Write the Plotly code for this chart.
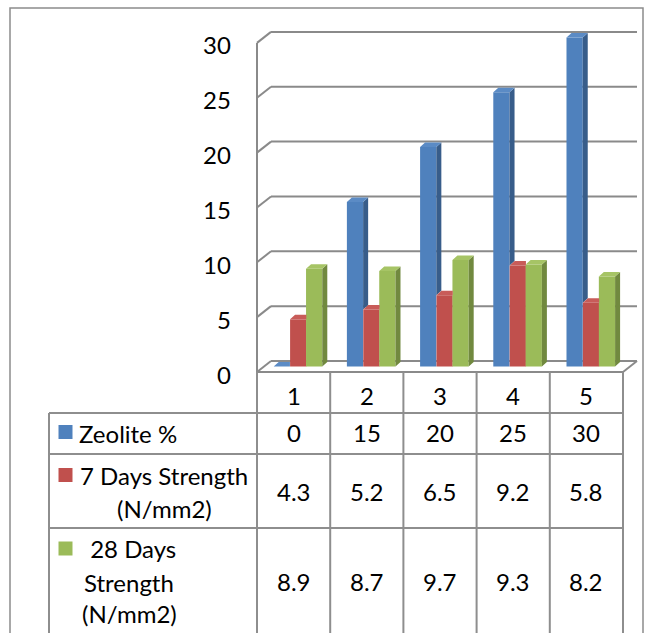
import plotly.graph_objects as go

# ---- data -------------------------------------------------------------
categories = [1, 2, 3, 4, 5]
zeolite_pct = [0, 15, 20, 25, 30]
strength_7d = [4.3, 5.2, 6.5, 9.2, 5.8]
strength_28d = [8.9, 8.7, 9.7, 9.3, 8.2]
y_ticks = [0, 5, 10, 15, 20, 25, 30]

series_values = [zeolite_pct, strength_7d, strength_28d]
series_labels = [
    ["Zeolite %"],
    ["7 Days Strength", "(N/mm2)"],
    [" 28 Days", "Strength", "(N/mm2)"],
]

# ---- styling ----------------------------------------------------------
FRONT = ["#4F81BD", "#C0504D", "#9BBB59"]
SIDE = ["#385D8A", "#8C3B39", "#71893F"]
TOP = ["#5B8BC5", "#C85C59", "#A6C465"]
GRID = "#8A8A8A"
TABLE_LINE = "#8E8E8E"
FONT = "Lato"
FS = 24

W, H = 645, 633

# the plot area spans the whole page; these map page pixels to data units
X_PER_UNIT = 73.2
Y_PER_UNIT = 10.97
X_EDGE_PX = 257      # x = 0.5, left edge of the first category
Y_BASE_PX = 366.5    # y = 0 at the bar base


def X(px):
    return 0.5 + (px - X_EDGE_PX) / X_PER_UNIT


def Y(py):
    return (Y_BASE_PX - py) / Y_PER_UNIT


# 3-D depth of the walls and of each bar
DX = 14 / X_PER_UNIT
DY = 11 / Y_PER_UNIT
BDX = 5 / X_PER_UNIT
BDY = 4.5 / Y_PER_UNIT
BAR_W = 0.222
BAR_OFF = [-0.272, -0.048, 0.170]

fig = go.Figure()

# front faces of the columns
for s, vals in enumerate(series_values):
    fig.add_trace(go.Bar(
        x=categories, y=vals, base=0, width=BAR_W, offset=BAR_OFF[s],
        marker=dict(color=FRONT[s], line=dict(width=0)),
        showlegend=False, hoverinfo="skip",
    ))

# side and top faces, hidden where the next column of the group stands in front
for s, vals in enumerate(series_values):
    sx, sy, tx, ty = [], [], [], []
    for i, c in enumerate(categories):
        v = vals[i]
        nxt = series_values[s + 1][i] if s + 1 < len(series_values) else None
        xl = c + BAR_OFF[s]
        xr = xl + BAR_W
        b = max(nxt, 0) if nxt is not None else 0
        if v > b:
            sx += [xr, xr, xr + BDX, xr + BDX, xr, None]
            sy += [b, v, v + BDY, b + BDY, b, None]
        if nxt is not None and nxt > v:
            tx += [xl, xr, xr, xl + BDX, xl, None]
            ty += [v, v, v + BDY, v + BDY, v, None]
        else:
            tx += [xl, xr, xr + BDX, xl + BDX, xl, None]
            ty += [v, v, v + BDY, v + BDY, v, None]
    fig.add_trace(go.Scatter(x=sx, y=sy, mode="lines", fill="toself",
                             fillcolor=SIDE[s], line=dict(width=0),
                             showlegend=False, hoverinfo="skip"))
    fig.add_trace(go.Scatter(x=tx, y=ty, mode="lines", fill="toself",
                             fillcolor=TOP[s], line=dict(width=0),
                             showlegend=False, hoverinfo="skip"))

shapes = []


def seg(x0, y0, x1, y1, color=GRID, width=2, layer="below"):
    shapes.append(dict(type="line", xref="x", yref="y", x0=x0, y0=y0,
                       x1=x1, y1=y1, layer=layer,
                       line=dict(color=color, width=width)))


x_left = categories[0] - 0.5
x_right = categories[-1] + 0.5

# back wall gridlines with their perspective links to the side wall
for v in y_ticks:
    seg(x_left, v - DY / 2, x_left + DX, v + DY / 2)
    seg(x_left + DX, v + DY / 2, x_right + DX, v + DY / 2)
# side wall edge and floor
seg(x_left, -DY / 2, x_left, y_ticks[-1] - DY / 2)
seg(x_left, -DY / 2, x_right, -DY / 2)
seg(x_right, -DY / 2, x_right + DX, DY / 2)

# data table grid
y_bottom = Y(H + 20)
for k in range(len(categories) + 1):
    seg(x_left + k, -DY / 2, x_left + k, y_bottom, TABLE_LINE, 2, "above")
seg(X(49), Y(413), X(49), y_bottom, TABLE_LINE, 2, "above")
for py in (413, 454, 528):
    seg(X(49), Y(py), x_right, Y(py), TABLE_LINE, 2, "above")

# outer chart frame
shapes.append(dict(type="rect", xref="paper", yref="paper",
                   x0=10 / W, x1=643 / W, y0=-0.05, y1=1 - 8 / H,
                   line=dict(color="#8C8C8C", width=1.5), layer="above"))

annotations = []


def text(x, y, s, xanchor="center"):
    annotations.append(dict(x=x, y=y, xref="x", yref="y", text=s,
                            showarrow=False, xanchor=xanchor, yanchor="middle",
                            font=dict(family=FONT, size=FS, color="#000000")))


# value axis labels
for v in y_ticks:
    text(X(233), v - DY / 2 - 2 / Y_PER_UNIT, str(v), "right")

# category row
for c in categories:
    text(c, Y(395), str(c))

# table rows: header text, legend key and values
row_centers = [432, 491, 581]
key_centers = [432, 475, 548.5]
label_lines = [[(128, 433)],
               [(164, 475), (164.5, 508)],
               [(129.5, 548), (129, 582), (129.5, 613)]]
for s, vals in enumerate(series_values):
    for line, (lx, ly) in zip(series_labels[s], label_lines[s]):
        text(X(lx), Y(ly), line)
    fig.add_trace(go.Scatter(
        x=[X(65.5)], y=[Y(key_centers[s])], mode="markers",
        marker=dict(symbol="square", size=14, color=FRONT[s], line=dict(width=0)),
        showlegend=False, hoverinfo="skip", cliponaxis=False,
    ))
    for c, v in zip(categories, vals):
        text(c, Y(row_centers[s]), f"{v:g}")

fig.update_layout(
    width=W, height=H,
    margin=dict(l=0, r=0, t=0, b=0),
    paper_bgcolor="white", plot_bgcolor="white",
    barmode="overlay",
    xaxis=dict(range=[X(0), X(W)], visible=False, fixedrange=True),
    yaxis=dict(range=[Y(H), Y(0)], visible=False, fixedrange=True),
    shapes=shapes,
    annotations=annotations,
    showlegend=False,
)

fig.write_html("out.html")
